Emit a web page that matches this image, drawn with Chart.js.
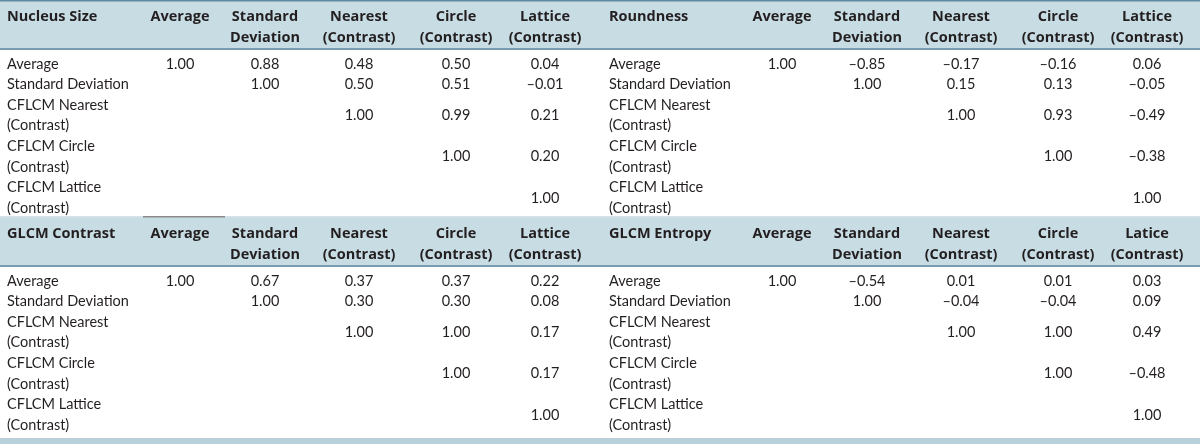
<!DOCTYPE html>
<html>
<head>
<meta charset="utf-8">
<script src="https://cdn.jsdelivr.net/npm/chart.js@4.4.1/dist/chart.umd.min.js"></script>
<style>
  html, body { margin: 0; padding: 0; background: #fff; }
  #wrap { width: 1200px; height: 444px; }
</style>
</head>
<body>
<div id="wrap"><canvas id="table" width="1200" height="444"></canvas></div>
<script>
// table contents
const blockTitles = ["Nucleus Size", "Roundness", "GLCM Contrast", "GLCM Entropy"];
const columnHeads = [
  ["Average"],
  ["Standard", "Deviation"],
  ["Nearest", "(Contrast)"],
  ["Circle", "(Contrast)"],
  ["Lattice", "(Contrast)"],
];
const entropyLastHead = ["Latice", "(Contrast)"];
const rowLabels = [
  ["Average"],
  ["Standard Deviation"],
  ["CFLCM Nearest", "(Contrast)"],
  ["CFLCM Circle", "(Contrast)"],
  ["CFLCM Lattice", "(Contrast)"],
];

const nucleusSize = [
  [1.0, 0.88, 0.48, 0.5, 0.04],
  [null, 1.0, 0.5, 0.51, -0.01],
  [null, null, 1.0, 0.99, 0.21],
  [null, null, null, 1.0, 0.2],
  [null, null, null, null, 1.0],
];
const roundness = [
  [1.0, -0.85, -0.17, -0.16, 0.06],
  [null, 1.0, 0.15, 0.13, -0.05],
  [null, null, 1.0, 0.93, -0.49],
  [null, null, null, 1.0, -0.38],
  [null, null, null, null, 1.0],
];
const glcmContrast = [
  [1.0, 0.67, 0.37, 0.37, 0.22],
  [null, 1.0, 0.3, 0.3, 0.08],
  [null, null, 1.0, 1.0, 0.17],
  [null, null, null, 1.0, 0.17],
  [null, null, null, null, 1.0],
];
const glcmEntropy = [
  [1.0, -0.54, 0.01, 0.01, 0.03],
  [null, 1.0, -0.04, -0.04, 0.09],
  [null, null, 1.0, 1.0, 0.49],
  [null, null, null, 1.0, -0.48],
  [null, null, null, null, 1.0],
];
const blockValues = [nucleusSize, roundness, glcmContrast, glcmEntropy];

// layout (table units = pixels of a 1200x444 sheet)
const labelX = 7;
const colX = [180, 265, 359, 456, 545];
const rightShift = 602;
const blockTops = [2, 219];
const headLine1 = 15, headLine2 = 36;
const firstRow = 62, lineStep = 20.6;

const BODY_FONT = "14.5px Lato, sans-serif";
const HEAD_FONT = "bold 14.5px 'Open Sans', sans-serif";
const TEXT_COLOR = "#231f20";

function fmt(v) {
  return v.toFixed(2).replace("-", "\u2013");
}

// build one dataset per block, every cell is a point carrying its text
const datasets = blockValues.map(function (vals, b) {
  const xOff = (b % 2) * rightShift;
  const top = blockTops[Math.floor(b / 2)];
  const cells = [];

  cells.push({ x: labelX + xOff, y: top + headLine1, text: blockTitles[b], bold: true, align: "left" });

  columnHeads.forEach(function (head, j) {
    const lines = b === 3 && j === 4 ? entropyLastHead : head;
    lines.forEach(function (t, k) {
      cells.push({ x: colX[j] + xOff, y: top + (k === 0 ? headLine1 : headLine2), text: t, bold: true, align: "center" });
    });
  });

  let line = 0;
  rowLabels.forEach(function (label, i) {
    const firstY = top + firstRow + line * lineStep;
    label.forEach(function (t, k) {
      cells.push({ x: labelX + xOff, y: firstY + k * lineStep, text: t, bold: false, align: "left" });
    });
    const midY = firstY + ((label.length - 1) * lineStep) / 2;
    vals[i].forEach(function (v, j) {
      if (v !== null) {
        cells.push({ x: colX[j] + xOff, y: midY, text: fmt(v), bold: false, align: "center" });
      }
    });
    line += label.length;
  });

  return {
    label: blockTitles[b],
    data: cells,
    pointRadius: 0,
    pointHoverRadius: 0,
    showLine: false,
  };
});

// header bands and rules behind the text
const bandPlugin = {
  id: "bands",
  beforeDatasetsDraw(chart) {
    const c = chart.ctx;
    const xs = chart.scales.x, ys = chart.scales.y;
    const left = xs.getPixelForValue(0), right = xs.getPixelForValue(1200);
    c.save();
    blockTops.forEach(function (top, n) {
      const y0 = ys.getPixelForValue(n === 0 ? top - 1 : top - 2);
      const y1 = ys.getPixelForValue(top + 46);
      c.fillStyle = "#c8dce4";
      c.fillRect(left, y0, right - left, y1 - y0);
      c.fillStyle = "#7a9cb0";
      c.fillRect(left, y1, right - left, 2);
    });
    // top border
    c.fillStyle = "#5f8aa0";
    c.fillRect(left, ys.getPixelForValue(0), right - left, 1.5);
    // thin light rule above second header with a darker piece
    c.fillStyle = "#d6e2e8";
    c.fillRect(left, ys.getPixelForValue(216), right - left, 1.5);
    c.fillStyle = "#8a8a8a";
    c.fillRect(xs.getPixelForValue(143), ys.getPixelForValue(216), xs.getPixelForValue(225) - xs.getPixelForValue(143), 1.5);
    // bottom band
    c.fillStyle = "#b8d0da";
    c.fillRect(left, ys.getPixelForValue(438), right - left, ys.getPixelForValue(444) - ys.getPixelForValue(438));
    c.restore();
  },
};

// cell texts drawn at each point's position
const textPlugin = {
  id: "cellText",
  afterDatasetsDraw(chart) {
    const c = chart.ctx;
    c.save();
    c.fillStyle = TEXT_COLOR;
    c.textBaseline = "middle";
    chart.data.datasets.forEach(function (ds, di) {
      const meta = chart.getDatasetMeta(di);
      meta.data.forEach(function (el, i) {
        const cell = ds.data[i];
        c.font = cell.bold ? HEAD_FONT : BODY_FONT;
        c.textAlign = cell.align;
        c.fillText(cell.text, el.x, el.y);
      });
    });
    c.restore();
  },
};

new Chart(document.getElementById("table").getContext("2d"), {
  type: "scatter",
  data: { datasets: datasets },
  options: {
    responsive: false,
    animation: false,
    devicePixelRatio: 1,
    layout: { padding: 0 },
    plugins: { legend: { display: false }, tooltip: { enabled: false } },
    scales: {
      x: { type: "linear", min: 0, max: 1200, display: false },
      y: { type: "linear", min: 0, max: 444, reverse: true, display: false },
    },
  },
  plugins: [bandPlugin, textPlugin],
});
</script>
</body>
</html>
